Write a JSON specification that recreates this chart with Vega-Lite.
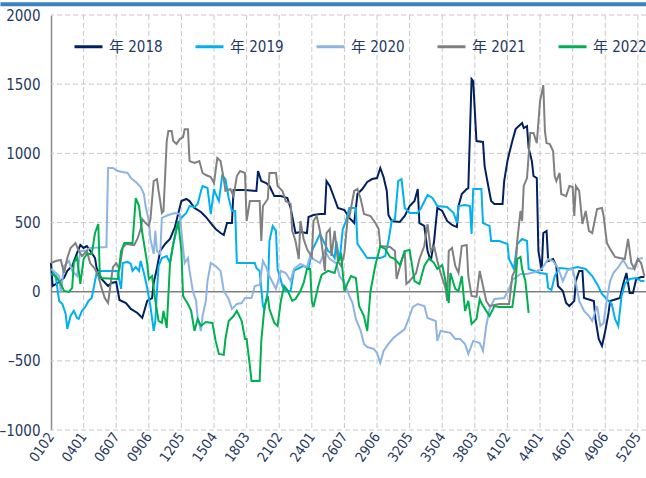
{
  "$schema": "https://vega.github.io/schema/vega-lite/v6.json",
  "width": 595,
  "height": 415,
  "autosize": {"type": "none"},
  "padding": {"left": 51, "top": 15, "right": 0, "bottom": 48},
  "background": "white",
  "config": {
    "view": {"stroke": null},
    "font": "Liberation Sans Narrow, DejaVu Sans Condensed, Noto Sans CJK SC, sans-serif"
  },
  "data": {"values": [{}]},
  "layer": [
    {
      "data": {"values": [{"g":20},{"g":40},{"g":60},{"g":80},{"g":100},{"g":120},{"g":140},{"g":160},{"g":180},{"g":200},{"g":220},{"g":240},{"g":260},{"g":280},{"g":300},{"g":320},{"g":340},{"g":360}]},
      "mark": {"type": "rule", "color": "#c8c8c8", "strokeWidth": 1, "strokeDash": [5, 3], "opacity": 1},
      "encoding": {
        "x": {"field": "g", "type": "quantitative", "scale": {"domain": [0, 365], "nice": false, "zero": false},
          "axis": {"title": null, "values": [0,20,40,60,80,100,120,140,160,180,200,220,240,260,280,300,320,340,360], "labelExpr": "(floor((datum.value+1)/7)+1 < 10 ? '0' : '') + (floor((datum.value+1)/7)+1) + '0' + ((datum.value+1)%7+1)", "grid": false, "domain": false, "ticks": false, "labelAngle": -55, "labelFontSize": 14, "labelColor": "#1f3864", "labelPadding": 4, "labelOverlap": false}}
      }
    },
    {
      "data": {"values": [{"g":-1000},{"g":-500},{"g":500},{"g":1000},{"g":1500},{"g":2000}]},
      "mark": {"type": "rule", "color": "#c8c8c8", "strokeWidth": 1, "strokeDash": [5, 3], "opacity": 1},
      "encoding": {
        "y": {"field": "g", "type": "quantitative", "scale": {"domain": [-1000, 2000], "nice": false},
          "axis": {"title": null, "values": [-1000, -500, 0, 500, 1000, 1500, 2000], "labelExpr": "(datum.value < 0 ? '–' : '') + abs(datum.value)", "grid": false, "domain": true, "domainColor": "#898989", "domainWidth": 1.5, "ticks": false, "labelFontSize": 15, "labelColor": "#1f3864", "labelPadding": 11}}
      }
    },
    {
      "mark": {"type": "rule", "color": "#3b82c4", "strokeWidth": 4},
      "encoding": {
        "x": {"datum": -31, "type": "quantitative", "scale": {"domain": [0, 365], "nice": false, "zero": false},
          "axis": {"title": null, "values": [0,20,40,60,80,100,120,140,160,180,200,220,240,260,280,300,320,340,360], "labelExpr": "(floor((datum.value+1)/7)+1 < 10 ? '0' : '') + (floor((datum.value+1)/7)+1) + '0' + ((datum.value+1)%7+1)", "grid": false, "domain": false, "ticks": false, "labelAngle": -55, "labelFontSize": 14, "labelColor": "#1f3864", "labelPadding": 4, "labelOverlap": false}},
        "x2": {"datum": 366},
        "y": {"datum": 2078, "type": "quantitative", "scale": {"domain": [-1000, 2000], "nice": false},
          "axis": {"title": null, "values": [-1000, -500, 0, 500, 1000, 1500, 2000], "labelExpr": "(datum.value < 0 ? '–' : '') + abs(datum.value)", "grid": false, "domain": true, "domainColor": "#898989", "domainWidth": 1.5, "ticks": false, "labelFontSize": 15, "labelColor": "#1f3864", "labelPadding": 11}}
      }
    },
    {
      "mark": {"type": "rule", "color": "#808080", "strokeWidth": 1.5},
      "encoding": {
        "y": {"datum": 0, "type": "quantitative", "scale": {"domain": [-1000, 2000], "nice": false},
          "axis": {"title": null, "values": [-1000, -500, 0, 500, 1000, 1500, 2000], "labelExpr": "(datum.value < 0 ? '–' : '') + abs(datum.value)", "grid": false, "domain": true, "domainColor": "#898989", "domainWidth": 1.5, "ticks": false, "labelFontSize": 15, "labelColor": "#1f3864", "labelPadding": 11}}
      }
    },
    {
      "data": {
        "values": [
          {"s":"年 2018","d":0,"v":207},{"s":"年 2018","d":1,"v":41},{"s":"年 2018","d":5,"v":70},{"s":"年 2018","d":8,"v":99},{"s":"年 2018","d":10,"v":150},{"s":"年 2018","d":13,"v":186},{"s":"年 2018","d":16,"v":280},{"s":"年 2018","d":18,"v":337},{"s":"年 2018","d":20,"v":316},{"s":"年 2018","d":22,"v":330},{"s":"年 2018","d":25,"v":280},{"s":"年 2018","d":27,"v":243},{"s":"年 2018","d":28,"v":171},{"s":"年 2018","d":31,"v":92},{"s":"年 2018","d":35,"v":41},{"s":"年 2018","d":37,"v":63},{"s":"年 2018","d":40,"v":70},{"s":"年 2018","d":42,"v":-60},{"s":"年 2018","d":46,"v":-82},{"s":"年 2018","d":49,"v":-125},{"s":"年 2018","d":53,"v":-154},{"s":"年 2018","d":56,"v":-190},{"s":"年 2018","d":59,"v":-67},{"s":"年 2018","d":62,"v":-46},{"s":"年 2018","d":63,"v":63},{"s":"年 2018","d":65,"v":171},{"s":"年 2018","d":67,"v":294},{"s":"年 2018","d":70,"v":345},{"s":"年 2018","d":73,"v":381},{"s":"年 2018","d":76,"v":467},{"s":"年 2018","d":78,"v":561},{"s":"年 2018","d":80,"v":655},{"s":"年 2018","d":83,"v":670},{"s":"年 2018","d":85,"v":655},{"s":"年 2018","d":88,"v":605},{"s":"年 2018","d":92,"v":576},{"s":"年 2018","d":95,"v":540},{"s":"年 2018","d":98,"v":496},{"s":"年 2018","d":101,"v":453},{"s":"年 2018","d":104,"v":424},{"s":"年 2018","d":106,"v":410},{"s":"年 2018","d":108,"v":496},{"s":"年 2018","d":111,"v":496},{"s":"年 2018","d":112,"v":735},{"s":"年 2018","d":119,"v":735},{"s":"年 2018","d":126,"v":728},{"s":"年 2018","d":127,"v":872},{"s":"年 2018","d":129,"v":800},{"s":"年 2018","d":132,"v":785},{"s":"年 2018","d":134,"v":764},{"s":"年 2018","d":137,"v":691},{"s":"年 2018","d":141,"v":691},{"s":"年 2018","d":145,"v":677},{"s":"年 2018","d":147,"v":605},{"s":"年 2018","d":150,"v":424},{"s":"年 2018","d":153,"v":431},{"s":"年 2018","d":157,"v":424},{"s":"年 2018","d":158,"v":540},{"s":"年 2018","d":161,"v":554},{"s":"年 2018","d":165,"v":561},{"s":"年 2018","d":168,"v":561},{"s":"年 2018","d":169,"v":800},{"s":"年 2018","d":171,"v":764},{"s":"年 2018","d":174,"v":670},{"s":"年 2018","d":176,"v":605},{"s":"年 2018","d":180,"v":590},{"s":"年 2018","d":183,"v":533},{"s":"年 2018","d":186,"v":496},{"s":"年 2018","d":188,"v":706},{"s":"年 2018","d":191,"v":742},{"s":"年 2018","d":194,"v":793},{"s":"年 2018","d":197,"v":814},{"s":"年 2018","d":200,"v":821},{"s":"年 2018","d":202,"v":894},{"s":"年 2018","d":204,"v":829},{"s":"年 2018","d":206,"v":728},{"s":"年 2018","d":207,"v":554},{"s":"年 2018","d":209,"v":511},{"s":"年 2018","d":214,"v":504},{"s":"年 2018","d":217,"v":547},{"s":"年 2018","d":220,"v":619},{"s":"年 2018","d":223,"v":655},{"s":"年 2018","d":225,"v":742},{"s":"年 2018","d":226,"v":496},{"s":"年 2018","d":229,"v":475},{"s":"年 2018","d":231,"v":294},{"s":"年 2018","d":233,"v":222},{"s":"年 2018","d":235,"v":366},{"s":"年 2018","d":237,"v":605},{"s":"年 2018","d":240,"v":583},{"s":"年 2018","d":243,"v":511},{"s":"年 2018","d":246,"v":482},{"s":"年 2018","d":249,"v":467},{"s":"年 2018","d":250,"v":619},{"s":"年 2018","d":252,"v":706},{"s":"年 2018","d":255,"v":742},{"s":"年 2018","d":256,"v":749},{"s":"年 2018","d":258,"v":1537},{"s":"年 2018","d":259,"v":1522},{"s":"年 2018","d":261,"v":1089},{"s":"年 2018","d":265,"v":1082},{"s":"年 2018","d":266,"v":908},{"s":"年 2018","d":268,"v":778},{"s":"年 2018","d":270,"v":655},{"s":"年 2018","d":272,"v":634},{"s":"年 2018","d":277,"v":634},{"s":"年 2018","d":278,"v":800},{"s":"年 2018","d":280,"v":944},{"s":"年 2018","d":281,"v":995},{"s":"年 2018","d":283,"v":1089},{"s":"年 2018","d":285,"v":1175},{"s":"年 2018","d":287,"v":1197},{"s":"年 2018","d":289,"v":1219},{"s":"年 2018","d":290,"v":1183},{"s":"年 2018","d":292,"v":1197},{"s":"年 2018","d":293,"v":1038},{"s":"年 2018","d":295,"v":944},{"s":"年 2018","d":296,"v":836},{"s":"年 2018","d":298,"v":821},{"s":"年 2018","d":299,"v":294},{"s":"年 2018","d":301,"v":150},{"s":"年 2018","d":302,"v":424},{"s":"年 2018","d":304,"v":439},{"s":"年 2018","d":305,"v":222},{"s":"年 2018","d":308,"v":236},{"s":"年 2018","d":310,"v":186},{"s":"年 2018","d":311,"v":41},{"s":"年 2018","d":314,"v":5},{"s":"年 2018","d":316,"v":-82},{"s":"年 2018","d":318,"v":-104},{"s":"年 2018","d":321,"v":-67},{"s":"年 2018","d":322,"v":77},{"s":"年 2018","d":324,"v":150},{"s":"年 2018","d":326,"v":150},{"s":"年 2018","d":327,"v":-46},{"s":"年 2018","d":331,"v":-60},{"s":"年 2018","d":333,"v":-67},{"s":"年 2018","d":334,"v":-197},{"s":"年 2018","d":336,"v":-342},{"s":"年 2018","d":338,"v":-392},{"s":"年 2018","d":340,"v":-284},{"s":"年 2018","d":342,"v":-154},{"s":"年 2018","d":343,"v":-67},{"s":"年 2018","d":347,"v":-53},{"s":"年 2018","d":349,"v":-46},{"s":"年 2018","d":351,"v":56},{"s":"年 2018","d":353,"v":135},{"s":"年 2018","d":355,"v":-9},{"s":"年 2018","d":357,"v":-9},{"s":"年 2018","d":359,"v":92},{"s":"年 2018","d":362,"v":106},{"s":"年 2018","d":364,"v":106},

          {"s":"年 2019","d":1,"v":150},{"s":"年 2019","d":3,"v":99},{"s":"年 2019","d":5,"v":-67},{"s":"年 2019","d":7,"v":-89},{"s":"年 2019","d":9,"v":-161},{"s":"年 2019","d":10,"v":-270},{"s":"年 2019","d":12,"v":-176},{"s":"年 2019","d":14,"v":-139},{"s":"年 2019","d":16,"v":-190},{"s":"年 2019","d":17,"v":-197},{"s":"年 2019","d":19,"v":-139},{"s":"年 2019","d":21,"v":-111},{"s":"年 2019","d":23,"v":-67},{"s":"年 2019","d":25,"v":-46},{"s":"年 2019","d":27,"v":77},{"s":"年 2019","d":28,"v":135},{"s":"年 2019","d":30,"v":150},{"s":"年 2019","d":41,"v":150},{"s":"年 2019","d":42,"v":77},{"s":"年 2019","d":43,"v":20},{"s":"年 2019","d":44,"v":207},{"s":"年 2019","d":47,"v":215},{"s":"年 2019","d":49,"v":200},{"s":"年 2019","d":50,"v":150},{"s":"年 2019","d":52,"v":178},{"s":"年 2019","d":54,"v":150},{"s":"年 2019","d":55,"v":222},{"s":"年 2019","d":57,"v":135},{"s":"年 2019","d":59,"v":27},{"s":"年 2019","d":61,"v":-104},{"s":"年 2019","d":63,"v":-284},{"s":"年 2019","d":64,"v":-212},{"s":"年 2019","d":65,"v":5},{"s":"年 2019","d":66,"v":186},{"s":"年 2019","d":68,"v":243},{"s":"年 2019","d":71,"v":258},{"s":"年 2019","d":73,"v":207},{"s":"年 2019","d":75,"v":345},{"s":"年 2019","d":77,"v":453},{"s":"年 2019","d":80,"v":533},{"s":"年 2019","d":83,"v":569},{"s":"年 2019","d":85,"v":619},{"s":"年 2019","d":88,"v":612},{"s":"年 2019","d":90,"v":634},{"s":"年 2019","d":92,"v":728},{"s":"年 2019","d":93,"v":764},{"s":"年 2019","d":96,"v":749},{"s":"年 2019","d":97,"v":655},{"s":"年 2019","d":98,"v":561},{"s":"年 2019","d":100,"v":742},{"s":"年 2019","d":101,"v":706},{"s":"年 2019","d":103,"v":655},{"s":"年 2019","d":105,"v":836},{"s":"年 2019","d":107,"v":814},{"s":"年 2019","d":109,"v":677},{"s":"年 2019","d":111,"v":583},{"s":"年 2019","d":113,"v":583},{"s":"年 2019","d":114,"v":207},{"s":"年 2019","d":125,"v":207},{"s":"年 2019","d":126,"v":171},{"s":"年 2019","d":128,"v":150},{"s":"年 2019","d":130,"v":-104},{"s":"年 2019","d":131,"v":-125},{"s":"年 2019","d":133,"v":5},{"s":"年 2019","d":134,"v":366},{"s":"年 2019","d":136,"v":475},{"s":"年 2019","d":138,"v":439},{"s":"年 2019","d":139,"v":164},{"s":"年 2019","d":142,"v":41},{"s":"年 2019","d":144,"v":5},{"s":"年 2019","d":147,"v":5},{"s":"年 2019","d":149,"v":150},{"s":"年 2019","d":151,"v":164},{"s":"年 2019","d":155,"v":186},{"s":"年 2019","d":158,"v":164},{"s":"年 2019","d":160,"v":294},{"s":"年 2019","d":163,"v":366},{"s":"年 2019","d":165,"v":417},{"s":"年 2019","d":168,"v":345},{"s":"年 2019","d":170,"v":294},{"s":"年 2019","d":172,"v":280},{"s":"年 2019","d":174,"v":243},{"s":"年 2019","d":175,"v":366},{"s":"年 2019","d":177,"v":222},{"s":"年 2019","d":179,"v":453},{"s":"年 2019","d":181,"v":511},{"s":"年 2019","d":183,"v":605},{"s":"年 2019","d":187,"v":605},{"s":"年 2019","d":188,"v":345},{"s":"年 2019","d":191,"v":294},{"s":"年 2019","d":194,"v":243},{"s":"年 2019","d":202,"v":243},{"s":"年 2019","d":205,"v":258},{"s":"年 2019","d":207,"v":366},{"s":"年 2019","d":209,"v":511},{"s":"年 2019","d":211,"v":525},{"s":"年 2019","d":213,"v":800},{"s":"年 2019","d":215,"v":814},{"s":"年 2019","d":217,"v":605},{"s":"年 2019","d":220,"v":569},{"s":"年 2019","d":225,"v":569},{"s":"年 2019","d":227,"v":605},{"s":"年 2019","d":231,"v":699},{"s":"年 2019","d":234,"v":677},{"s":"年 2019","d":237,"v":619},{"s":"年 2019","d":243,"v":612},{"s":"年 2019","d":247,"v":569},{"s":"年 2019","d":249,"v":496},{"s":"年 2019","d":250,"v":619},{"s":"年 2019","d":254,"v":626},{"s":"年 2019","d":257,"v":619},{"s":"年 2019","d":258,"v":417},{"s":"年 2019","d":259,"v":742},{"s":"年 2019","d":264,"v":742},{"s":"年 2019","d":265,"v":496},{"s":"年 2019","d":269,"v":475},{"s":"年 2019","d":270,"v":366},{"s":"年 2019","d":275,"v":366},{"s":"年 2019","d":280,"v":345},{"s":"年 2019","d":281,"v":236},{"s":"年 2019","d":284,"v":164},{"s":"年 2019","d":286,"v":345},{"s":"年 2019","d":289,"v":381},{"s":"年 2019","d":292,"v":366},{"s":"年 2019","d":293,"v":164},{"s":"年 2019","d":300,"v":135},{"s":"年 2019","d":304,"v":128},{"s":"年 2019","d":305,"v":27},{"s":"年 2019","d":307,"v":12},{"s":"年 2019","d":309,"v":113},{"s":"年 2019","d":312,"v":171},{"s":"年 2019","d":318,"v":164},{"s":"年 2019","d":323,"v":178},{"s":"年 2019","d":328,"v":164},{"s":"年 2019","d":332,"v":113},{"s":"年 2019","d":335,"v":56},{"s":"年 2019","d":338,"v":-17},{"s":"年 2019","d":342,"v":-67},{"s":"年 2019","d":344,"v":-89},{"s":"年 2019","d":346,"v":-197},{"s":"年 2019","d":348,"v":-248},{"s":"年 2019","d":350,"v":-31},{"s":"年 2019","d":352,"v":56},{"s":"年 2019","d":355,"v":92},{"s":"年 2019","d":359,"v":99},{"s":"年 2019","d":362,"v":77},{"s":"年 2019","d":364,"v":77},

          {"s":"年 2020","d":0,"v":164},{"s":"年 2020","d":3,"v":135},{"s":"年 2020","d":5,"v":113},{"s":"年 2020","d":6,"v":-9},{"s":"年 2020","d":8,"v":186},{"s":"年 2020","d":11,"v":222},{"s":"年 2020","d":13,"v":150},{"s":"年 2020","d":16,"v":113},{"s":"年 2020","d":18,"v":294},{"s":"年 2020","d":21,"v":294},{"s":"年 2020","d":24,"v":316},{"s":"年 2020","d":34,"v":323},{"s":"年 2020","d":35,"v":894},{"s":"年 2020","d":38,"v":894},{"s":"年 2020","d":41,"v":872},{"s":"年 2020","d":47,"v":858},{"s":"年 2020","d":49,"v":821},{"s":"年 2020","d":52,"v":793},{"s":"年 2020","d":55,"v":756},{"s":"年 2020","d":57,"v":706},{"s":"年 2020","d":58,"v":619},{"s":"年 2020","d":60,"v":511},{"s":"年 2020","d":61,"v":381},{"s":"年 2020","d":63,"v":272},{"s":"年 2020","d":64,"v":439},{"s":"年 2020","d":65,"v":294},{"s":"年 2020","d":67,"v":272},{"s":"年 2020","d":68,"v":533},{"s":"年 2020","d":72,"v":554},{"s":"年 2020","d":76,"v":569},{"s":"年 2020","d":79,"v":561},{"s":"年 2020","d":81,"v":316},{"s":"年 2020","d":82,"v":207},{"s":"年 2020","d":84,"v":243},{"s":"年 2020","d":85,"v":150},{"s":"年 2020","d":87,"v":5},{"s":"年 2020","d":89,"v":-67},{"s":"年 2020","d":90,"v":-197},{"s":"年 2020","d":92,"v":-284},{"s":"年 2020","d":93,"v":-176},{"s":"年 2020","d":95,"v":-67},{"s":"年 2020","d":96,"v":77},{"s":"年 2020","d":98,"v":207},{"s":"年 2020","d":101,"v":186},{"s":"年 2020","d":104,"v":150},{"s":"年 2020","d":106,"v":5},{"s":"年 2020","d":109,"v":-53},{"s":"年 2020","d":111,"v":-125},{"s":"年 2020","d":114,"v":-89},{"s":"年 2020","d":117,"v":-82},{"s":"年 2020","d":119,"v":-46},{"s":"年 2020","d":123,"v":-46},{"s":"年 2020","d":125,"v":41},{"s":"年 2020","d":128,"v":48},{"s":"年 2020","d":130,"v":222},{"s":"年 2020","d":132,"v":178},{"s":"年 2020","d":134,"v":113},{"s":"年 2020","d":138,"v":20},{"s":"年 2020","d":141,"v":150},{"s":"年 2020","d":144,"v":135},{"s":"年 2020","d":147,"v":77},{"s":"年 2020","d":149,"v":164},{"s":"年 2020","d":153,"v":200},{"s":"年 2020","d":157,"v":178},{"s":"年 2020","d":159,"v":258},{"s":"年 2020","d":161,"v":236},{"s":"年 2020","d":165,"v":207},{"s":"年 2020","d":168,"v":294},{"s":"年 2020","d":171,"v":236},{"s":"年 2020","d":175,"v":207},{"s":"年 2020","d":177,"v":113},{"s":"年 2020","d":180,"v":63},{"s":"年 2020","d":183,"v":-31},{"s":"年 2020","d":185,"v":-82},{"s":"年 2020","d":187,"v":-197},{"s":"年 2020","d":190,"v":-284},{"s":"年 2020","d":192,"v":-378},{"s":"年 2020","d":194,"v":-400},{"s":"年 2020","d":198,"v":-414},{"s":"年 2020","d":200,"v":-443},{"s":"年 2020","d":202,"v":-515},{"s":"年 2020","d":204,"v":-428},{"s":"年 2020","d":207,"v":-378},{"s":"年 2020","d":210,"v":-335},{"s":"年 2020","d":214,"v":-298},{"s":"年 2020","d":217,"v":-270},{"s":"年 2020","d":220,"v":-176},{"s":"年 2020","d":222,"v":-111},{"s":"年 2020","d":225,"v":-89},{"s":"年 2020","d":229,"v":-104},{"s":"年 2020","d":231,"v":-190},{"s":"年 2020","d":236,"v":-212},{"s":"年 2020","d":237,"v":-356},{"s":"年 2020","d":239,"v":-284},{"s":"年 2020","d":245,"v":-298},{"s":"年 2020","d":248,"v":-342},{"s":"年 2020","d":251,"v":-342},{"s":"年 2020","d":254,"v":-378},{"s":"年 2020","d":256,"v":-450},{"s":"年 2020","d":259,"v":-356},{"s":"年 2020","d":263,"v":-371},{"s":"年 2020","d":265,"v":-428},{"s":"年 2020","d":267,"v":-248},{"s":"年 2020","d":269,"v":-125},{"s":"年 2020","d":272,"v":-53},{"s":"年 2020","d":278,"v":-46},{"s":"年 2020","d":281,"v":20},{"s":"年 2020","d":283,"v":85},{"s":"年 2020","d":288,"v":128},{"s":"年 2020","d":292,"v":128},{"s":"年 2020","d":297,"v":142},{"s":"年 2020","d":301,"v":164},{"s":"年 2020","d":305,"v":236},{"s":"年 2020","d":308,"v":222},{"s":"年 2020","d":311,"v":171},{"s":"年 2020","d":314,"v":77},{"s":"年 2020","d":317,"v":157},{"s":"年 2020","d":320,"v":164},{"s":"年 2020","d":322,"v":63},{"s":"年 2020","d":324,"v":-67},{"s":"年 2020","d":327,"v":-139},{"s":"年 2020","d":330,"v":-176},{"s":"年 2020","d":332,"v":-212},{"s":"年 2020","d":335,"v":-104},{"s":"年 2020","d":337,"v":-248},{"s":"年 2020","d":339,"v":-226},{"s":"年 2020","d":341,"v":-53},{"s":"年 2020","d":343,"v":77},{"s":"年 2020","d":345,"v":135},{"s":"年 2020","d":348,"v":178},{"s":"年 2020","d":351,"v":229},{"s":"年 2020","d":354,"v":171},{"s":"年 2020","d":357,"v":164},{"s":"年 2020","d":360,"v":236},{"s":"年 2020","d":363,"v":243},

          {"s":"年 2021","d":0,"v":207},{"s":"年 2021","d":3,"v":222},{"s":"年 2021","d":6,"v":229},{"s":"年 2021","d":8,"v":135},{"s":"年 2021","d":10,"v":243},{"s":"年 2021","d":12,"v":316},{"s":"年 2021","d":15,"v":352},{"s":"年 2021","d":17,"v":294},{"s":"年 2021","d":19,"v":258},{"s":"年 2021","d":22,"v":294},{"s":"年 2021","d":24,"v":207},{"s":"年 2021","d":27,"v":164},{"s":"年 2021","d":29,"v":113},{"s":"年 2021","d":31,"v":27},{"s":"年 2021","d":33,"v":-46},{"s":"年 2021","d":35,"v":-82},{"s":"年 2021","d":36,"v":5},{"s":"年 2021","d":38,"v":178},{"s":"年 2021","d":40,"v":207},{"s":"年 2021","d":42,"v":164},{"s":"年 2021","d":44,"v":316},{"s":"年 2021","d":46,"v":345},{"s":"年 2021","d":51,"v":337},{"s":"年 2021","d":53,"v":381},{"s":"年 2021","d":55,"v":453},{"s":"年 2021","d":56,"v":525},{"s":"年 2021","d":58,"v":496},{"s":"年 2021","d":60,"v":475},{"s":"年 2021","d":61,"v":525},{"s":"年 2021","d":63,"v":800},{"s":"年 2021","d":65,"v":814},{"s":"年 2021","d":66,"v":728},{"s":"年 2021","d":67,"v":655},{"s":"年 2021","d":68,"v":569},{"s":"年 2021","d":69,"v":583},{"s":"年 2021","d":71,"v":1089},{"s":"年 2021","d":72,"v":1161},{"s":"年 2021","d":74,"v":1161},{"s":"年 2021","d":75,"v":1089},{"s":"年 2021","d":77,"v":1067},{"s":"年 2021","d":79,"v":1103},{"s":"年 2021","d":81,"v":1118},{"s":"年 2021","d":82,"v":1175},{"s":"年 2021","d":84,"v":1175},{"s":"年 2021","d":85,"v":944},{"s":"年 2021","d":88,"v":930},{"s":"年 2021","d":91,"v":944},{"s":"年 2021","d":93,"v":858},{"s":"年 2021","d":95,"v":843},{"s":"年 2021","d":98,"v":829},{"s":"年 2021","d":100,"v":785},{"s":"年 2021","d":102,"v":966},{"s":"年 2021","d":104,"v":944},{"s":"年 2021","d":106,"v":814},{"s":"年 2021","d":107,"v":728},{"s":"年 2021","d":110,"v":742},{"s":"年 2021","d":112,"v":691},{"s":"年 2021","d":114,"v":836},{"s":"年 2021","d":116,"v":872},{"s":"年 2021","d":119,"v":858},{"s":"年 2021","d":120,"v":511},{"s":"年 2021","d":122,"v":655},{"s":"年 2021","d":128,"v":655},{"s":"年 2021","d":129,"v":366},{"s":"年 2021","d":130,"v":619},{"s":"年 2021","d":133,"v":670},{"s":"年 2021","d":134,"v":858},{"s":"年 2021","d":138,"v":858},{"s":"年 2021","d":139,"v":764},{"s":"年 2021","d":142,"v":728},{"s":"年 2021","d":144,"v":655},{"s":"年 2021","d":147,"v":634},{"s":"年 2021","d":148,"v":439},{"s":"年 2021","d":150,"v":366},{"s":"年 2021","d":152,"v":236},{"s":"年 2021","d":153,"v":511},{"s":"年 2021","d":155,"v":381},{"s":"年 2021","d":157,"v":309},{"s":"年 2021","d":160,"v":251},{"s":"年 2021","d":161,"v":511},{"s":"年 2021","d":163,"v":547},{"s":"年 2021","d":165,"v":439},{"s":"年 2021","d":167,"v":258},{"s":"年 2021","d":168,"v":150},{"s":"年 2021","d":169,"v":424},{"s":"年 2021","d":171,"v":453},{"s":"年 2021","d":172,"v":258},{"s":"年 2021","d":174,"v":439},{"s":"年 2021","d":176,"v":222},{"s":"年 2021","d":178,"v":186},{"s":"年 2021","d":180,"v":280},{"s":"年 2021","d":182,"v":533},{"s":"年 2021","d":183,"v":540},{"s":"年 2021","d":186,"v":728},{"s":"年 2021","d":188,"v":742},{"s":"年 2021","d":190,"v":670},{"s":"年 2021","d":192,"v":561},{"s":"年 2021","d":196,"v":547},{"s":"年 2021","d":199,"v":496},{"s":"年 2021","d":201,"v":453},{"s":"年 2021","d":202,"v":330},{"s":"年 2021","d":208,"v":323},{"s":"年 2021","d":211,"v":294},{"s":"年 2021","d":212,"v":92},{"s":"年 2021","d":214,"v":178},{"s":"年 2021","d":217,"v":294},{"s":"年 2021","d":218,"v":56},{"s":"年 2021","d":220,"v":77},{"s":"年 2021","d":224,"v":135},{"s":"年 2021","d":226,"v":236},{"s":"年 2021","d":229,"v":330},{"s":"年 2021","d":231,"v":489},{"s":"年 2021","d":233,"v":294},{"s":"年 2021","d":235,"v":330},{"s":"年 2021","d":237,"v":222},{"s":"年 2021","d":239,"v":135},{"s":"年 2021","d":242,"v":27},{"s":"年 2021","d":243,"v":-67},{"s":"年 2021","d":244,"v":294},{"s":"年 2021","d":246,"v":316},{"s":"年 2021","d":248,"v":186},{"s":"年 2021","d":250,"v":135},{"s":"年 2021","d":252,"v":330},{"s":"年 2021","d":255,"v":337},{"s":"年 2021","d":256,"v":113},{"s":"年 2021","d":258,"v":-31},{"s":"年 2021","d":261,"v":-38},{"s":"年 2021","d":263,"v":150},{"s":"年 2021","d":265,"v":41},{"s":"年 2021","d":267,"v":-67},{"s":"年 2021","d":269,"v":-104},{"s":"年 2021","d":275,"v":-89},{"s":"年 2021","d":281,"v":-89},{"s":"年 2021","d":283,"v":113},{"s":"年 2021","d":285,"v":164},{"s":"年 2021","d":286,"v":366},{"s":"年 2021","d":288,"v":583},{"s":"年 2021","d":289,"v":511},{"s":"年 2021","d":290,"v":764},{"s":"年 2021","d":292,"v":821},{"s":"年 2021","d":294,"v":1147},{"s":"年 2021","d":296,"v":1147},{"s":"年 2021","d":298,"v":1074},{"s":"年 2021","d":300,"v":1378},{"s":"年 2021","d":302,"v":1493},{"s":"年 2021","d":303,"v":1161},{"s":"年 2021","d":304,"v":1074},{"s":"年 2021","d":306,"v":1067},{"s":"年 2021","d":308,"v":1017},{"s":"年 2021","d":309,"v":836},{"s":"年 2021","d":310,"v":800},{"s":"年 2021","d":312,"v":858},{"s":"年 2021","d":313,"v":706},{"s":"年 2021","d":316,"v":691},{"s":"年 2021","d":318,"v":764},{"s":"年 2021","d":320,"v":756},{"s":"年 2021","d":321,"v":547},{"s":"年 2021","d":322,"v":764},{"s":"年 2021","d":324,"v":728},{"s":"年 2021","d":326,"v":489},{"s":"年 2021","d":328,"v":583},{"s":"年 2021","d":330,"v":439},{"s":"年 2021","d":332,"v":424},{"s":"年 2021","d":335,"v":597},{"s":"年 2021","d":338,"v":605},{"s":"年 2021","d":339,"v":547},{"s":"年 2021","d":341,"v":352},{"s":"年 2021","d":343,"v":309},{"s":"年 2021","d":346,"v":251},{"s":"年 2021","d":349,"v":243},{"s":"年 2021","d":352,"v":236},{"s":"年 2021","d":354,"v":381},{"s":"年 2021","d":356,"v":207},{"s":"年 2021","d":358,"v":164},{"s":"年 2021","d":360,"v":236},{"s":"年 2021","d":362,"v":207},{"s":"年 2021","d":364,"v":113},

          {"s":"年 2022","d":0,"v":128},{"s":"年 2022","d":3,"v":113},{"s":"年 2022","d":6,"v":56},{"s":"年 2022","d":8,"v":5},{"s":"年 2022","d":11,"v":-2},{"s":"年 2022","d":13,"v":27},{"s":"年 2022","d":14,"v":207},{"s":"年 2022","d":16,"v":251},{"s":"年 2022","d":18,"v":56},{"s":"年 2022","d":20,"v":236},{"s":"年 2022","d":22,"v":272},{"s":"年 2022","d":25,"v":272},{"s":"年 2022","d":27,"v":424},{"s":"年 2022","d":29,"v":489},{"s":"年 2022","d":30,"v":99},{"s":"年 2022","d":41,"v":92},{"s":"年 2022","d":43,"v":294},{"s":"年 2022","d":45,"v":352},{"s":"年 2022","d":50,"v":352},{"s":"年 2022","d":52,"v":677},{"s":"年 2022","d":54,"v":619},{"s":"年 2022","d":55,"v":525},{"s":"年 2022","d":56,"v":424},{"s":"年 2022","d":58,"v":280},{"s":"年 2022","d":59,"v":207},{"s":"年 2022","d":60,"v":92},{"s":"年 2022","d":62,"v":113},{"s":"年 2022","d":64,"v":-67},{"s":"年 2022","d":66,"v":-212},{"s":"年 2022","d":68,"v":-226},{"s":"年 2022","d":69,"v":-139},{"s":"年 2022","d":71,"v":-262},{"s":"年 2022","d":73,"v":207},{"s":"年 2022","d":75,"v":345},{"s":"年 2022","d":77,"v":453},{"s":"年 2022","d":78,"v":511},{"s":"年 2022","d":80,"v":294},{"s":"年 2022","d":81,"v":-31},{"s":"年 2022","d":84,"v":-89},{"s":"年 2022","d":86,"v":-139},{"s":"年 2022","d":88,"v":-284},{"s":"年 2022","d":90,"v":-197},{"s":"年 2022","d":92,"v":-248},{"s":"年 2022","d":95,"v":-219},{"s":"年 2022","d":99,"v":-226},{"s":"年 2022","d":101,"v":-356},{"s":"年 2022","d":103,"v":-450},{"s":"年 2022","d":106,"v":-457},{"s":"年 2022","d":107,"v":-342},{"s":"年 2022","d":109,"v":-212},{"s":"年 2022","d":112,"v":-176},{"s":"年 2022","d":114,"v":-139},{"s":"年 2022","d":117,"v":-212},{"s":"年 2022","d":119,"v":-342},{"s":"年 2022","d":120,"v":-342},{"s":"年 2022","d":122,"v":-537},{"s":"年 2022","d":123,"v":-645},{"s":"年 2022","d":128,"v":-645},{"s":"年 2022","d":129,"v":-356},{"s":"年 2022","d":131,"v":-104},{"s":"年 2022","d":133,"v":-31},{"s":"年 2022","d":134,"v":-125},{"s":"年 2022","d":137,"v":-226},{"s":"年 2022","d":139,"v":-248},{"s":"年 2022","d":141,"v":-67},{"s":"年 2022","d":143,"v":41},{"s":"年 2022","d":145,"v":12},{"s":"年 2022","d":148,"v":-67},{"s":"年 2022","d":150,"v":-53},{"s":"年 2022","d":153,"v":5},{"s":"年 2022","d":155,"v":63},{"s":"年 2022","d":157,"v":164},{"s":"年 2022","d":159,"v":164},{"s":"年 2022","d":160,"v":-67},{"s":"年 2022","d":161,"v":-111},{"s":"年 2022","d":164,"v":41},{"s":"年 2022","d":166,"v":121},{"s":"年 2022","d":170,"v":150},{"s":"年 2022","d":174,"v":135},{"s":"年 2022","d":176,"v":222},{"s":"年 2022","d":178,"v":265},{"s":"年 2022","d":180,"v":5},{"s":"年 2022","d":182,"v":63},{"s":"年 2022","d":184,"v":113},{"s":"年 2022","d":187,"v":99},{"s":"年 2022","d":189,"v":-104},{"s":"年 2022","d":192,"v":-176},{"s":"年 2022","d":194,"v":-284},{"s":"年 2022","d":196,"v":5},{"s":"年 2022","d":199,"v":193},{"s":"年 2022","d":202,"v":330},{"s":"年 2022","d":205,"v":309},{"s":"年 2022","d":208,"v":251},{"s":"年 2022","d":211,"v":236},{"s":"年 2022","d":214,"v":193},{"s":"年 2022","d":217,"v":294},{"s":"年 2022","d":220,"v":301},{"s":"年 2022","d":223,"v":77},{"s":"年 2022","d":226,"v":56},{"s":"年 2022","d":229,"v":186},{"s":"年 2022","d":232,"v":243},{"s":"年 2022","d":235,"v":207},{"s":"年 2022","d":237,"v":164},{"s":"年 2022","d":240,"v":193},{"s":"年 2022","d":242,"v":77},{"s":"年 2022","d":244,"v":-82},{"s":"年 2022","d":245,"v":135},{"s":"年 2022","d":248,"v":20},{"s":"年 2022","d":250,"v":5},{"s":"年 2022","d":252,"v":113},{"s":"年 2022","d":254,"v":-139},{"s":"年 2022","d":256,"v":-67},{"s":"年 2022","d":258,"v":-233},{"s":"年 2022","d":261,"v":-197},{"s":"年 2022","d":263,"v":-53},{"s":"年 2022","d":264,"v":-82},{"s":"年 2022","d":267,"v":-139},{"s":"年 2022","d":269,"v":-176},{"s":"年 2022","d":272,"v":-104},{"s":"年 2022","d":275,"v":-111},{"s":"年 2022","d":283,"v":-111},{"s":"年 2022","d":285,"v":63},{"s":"年 2022","d":286,"v":236},{"s":"年 2022","d":288,"v":251},{"s":"年 2022","d":289,"v":164},{"s":"年 2022","d":291,"v":77},{"s":"年 2022","d":293,"v":-154}
        ]
      },
      "mark": {"type": "line", "strokeWidth": 2},
      "encoding": {
        "x": {
          "field": "d", "type": "quantitative",
          "scale": {"domain": [0, 365], "nice": false, "zero": false},
          "axis": {"title": null, "values": [0,20,40,60,80,100,120,140,160,180,200,220,240,260,280,300,320,340,360], "labelExpr": "(floor((datum.value+1)/7)+1 < 10 ? '0' : '') + (floor((datum.value+1)/7)+1) + '0' + ((datum.value+1)%7+1)", "grid": false, "domain": false, "ticks": false, "labelAngle": -55, "labelFontSize": 14, "labelColor": "#1f3864", "labelPadding": 4, "labelOverlap": false}
        },
        "y": {
          "field": "v", "type": "quantitative",
          "scale": {"domain": [-1000, 2000], "nice": false},
          "axis": {"title": null, "values": [-1000, -500, 0, 500, 1000, 1500, 2000], "labelExpr": "(datum.value < 0 ? '–' : '') + abs(datum.value)", "grid": false, "domain": true, "domainColor": "#898989", "domainWidth": 1.5, "ticks": false, "labelFontSize": 15, "labelColor": "#1f3864", "labelPadding": 11}
        },
        "color": {
          "field": "s", "type": "nominal",
          "scale": {
            "domain": ["年 2018", "年 2019", "年 2020", "年 2021", "年 2022"],
            "range": ["#002060", "#00b0f0", "#8eb4e3", "#808080", "#00b050"]
          },
          "legend": {
            "orient": "none", "legendX": 22, "legendY": 16,
            "direction": "horizontal", "columns": 5, "title": null,
            "symbolType": "stroke", "symbolSize": 784, "symbolStrokeWidth": 3,
            "labelFontSize": 15, "labelColor": "#1f3864", "labelOffset": 5,
            "columnPadding": 26, "gridAlign": "all", "padding": 0
          }
        }
      }
    }
  ]
}
